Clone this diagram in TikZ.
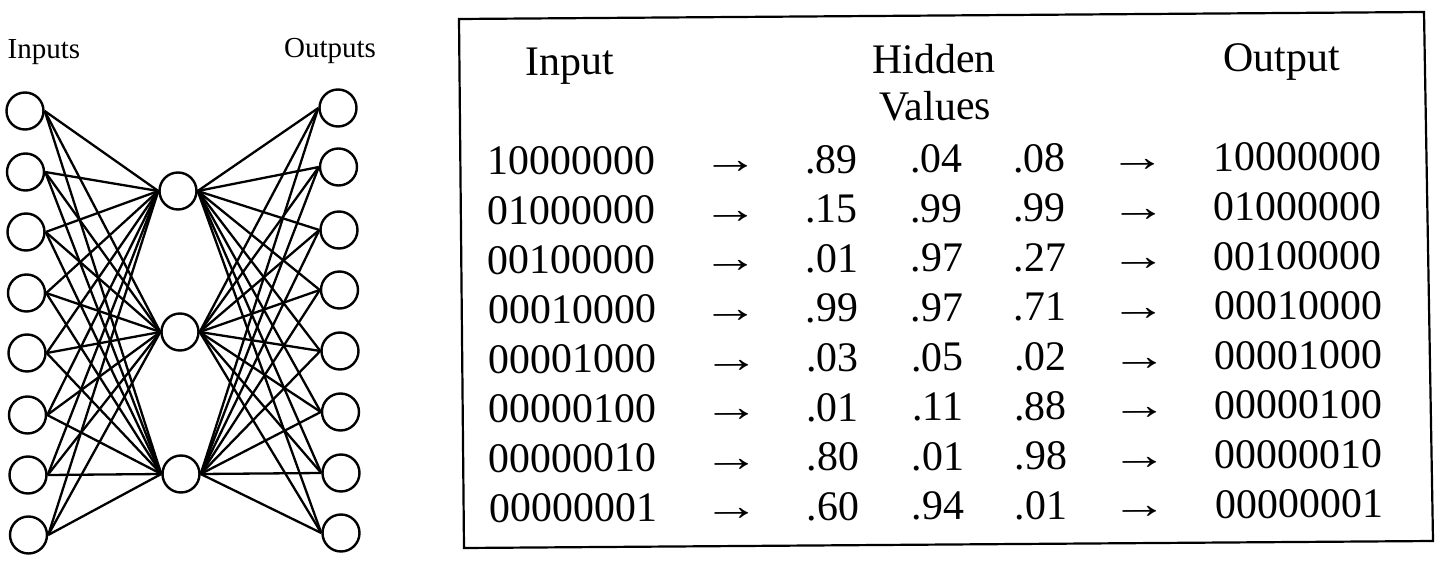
\documentclass[tikz,border=0pt]{standalone}
\usepackage{graphicx}
\usepackage{fontspec}
\setmainfont{Liberation Serif}
\newcommand{\rowarrow}{\scalebox{1.35}[1]{→}}
\begin{document}
\begin{tikzpicture}[x=1pt,y=-1pt,
  neuron/.style={circle,draw,line width=2.4pt,minimum size=37pt,inner sep=0pt},
  wire/.style={line width=2.3pt},
  lbl/.style={font=\fontsize{29}{29}\selectfont,anchor=base,inner sep=0pt},
  cell/.style={font=\fontsize{42}{42}\selectfont,anchor=base,inner sep=0pt},
  tablebox/.style={line width=2.2pt}]
\useasboundingbox (0,0) rectangle (1440,572);

% --- network ---
\node[lbl] (inputs) at (44,59) {Inputs};
\node[lbl] (outputs) at (330,58) {Outputs};

\foreach \i/\x/\y in {1/25/111,2/25.5/172,3/26/232,4/26.5/293,5/27/353,6/27.5/415,7/28/475,8/28.5/535}
  \node[neuron] (in\i) at (\x,\y) {};
\foreach \h/\x/\y in {1/178/191,2/180/332,3/181/474}
  \node[neuron] (h\h) at (\x,\y) {};
\foreach \o/\x/\y in {1/338/108,2/338.5/167,3/339/230,4/339.5/290,5/340/351,6/340.5/412,7/341/473,8/341/533}
  \node[neuron] (out\o) at (\x,\y) {};

\foreach \i in {1,...,8}
  \foreach \h in {1,2,3}
    \draw[wire] (in\i.east) -- (h\h.west);
\foreach \h in {1,2,3}
  \foreach \o in {1,...,8}
    \draw[wire] (h\h.east) -- (out\o.west);

% --- table ---
\coordinate (bTL) at (459,19);
\coordinate (bTR) at (1424,12);
\coordinate (bBR) at (1433,541);
\coordinate (bBL) at (464,548);
\draw[tablebox] (bTL) -- (bTR) -- (bBR) -- (bBL) -- cycle;

\begin{scope}[rotate around={0.3:(943,300)},transform shape]
  \node[cell] (hIn) at (571,73) {Input};
  \node[cell] (hHid) at (935,73) {Hidden};
  \node[cell] (hVal) at (936,120) {Values};
  \node[cell] (hOut) at (1283,73) {Output};
  \foreach \r/\a/\b/\c [count=\k] in {
      10000000/.89/.04/.08,
      01000000/.15/.99/.99,
      00100000/.01/.97/.27,
      00010000/.99/.97/.71,
      00001000/.03/.05/.02,
      00000100/.01/.11/.88,
      00000010/.80/.01/.98,
      00000001/.60/.94/.01}{
    \pgfmathsetmacro{\yy}{172.5+49.6*(\k-1)}
    \node[cell] (ri\k) at (572,\yy) {\r};
    \node[cell] (ra\k) at (731,\yy) {\rowarrow};
    \node[cell] (va\k) at (832,\yy) {\a};
    \node[cell] (vb\k) at (937,\yy) {\b};
    \node[cell] (vc\k) at (1040,\yy) {\c};
    \node[cell] (rb\k) at (1139,\yy) {\rowarrow};
    \node[cell] (ro\k) at (1298,\yy) {\r};
  }
\end{scope}
\end{tikzpicture}
\end{document}
